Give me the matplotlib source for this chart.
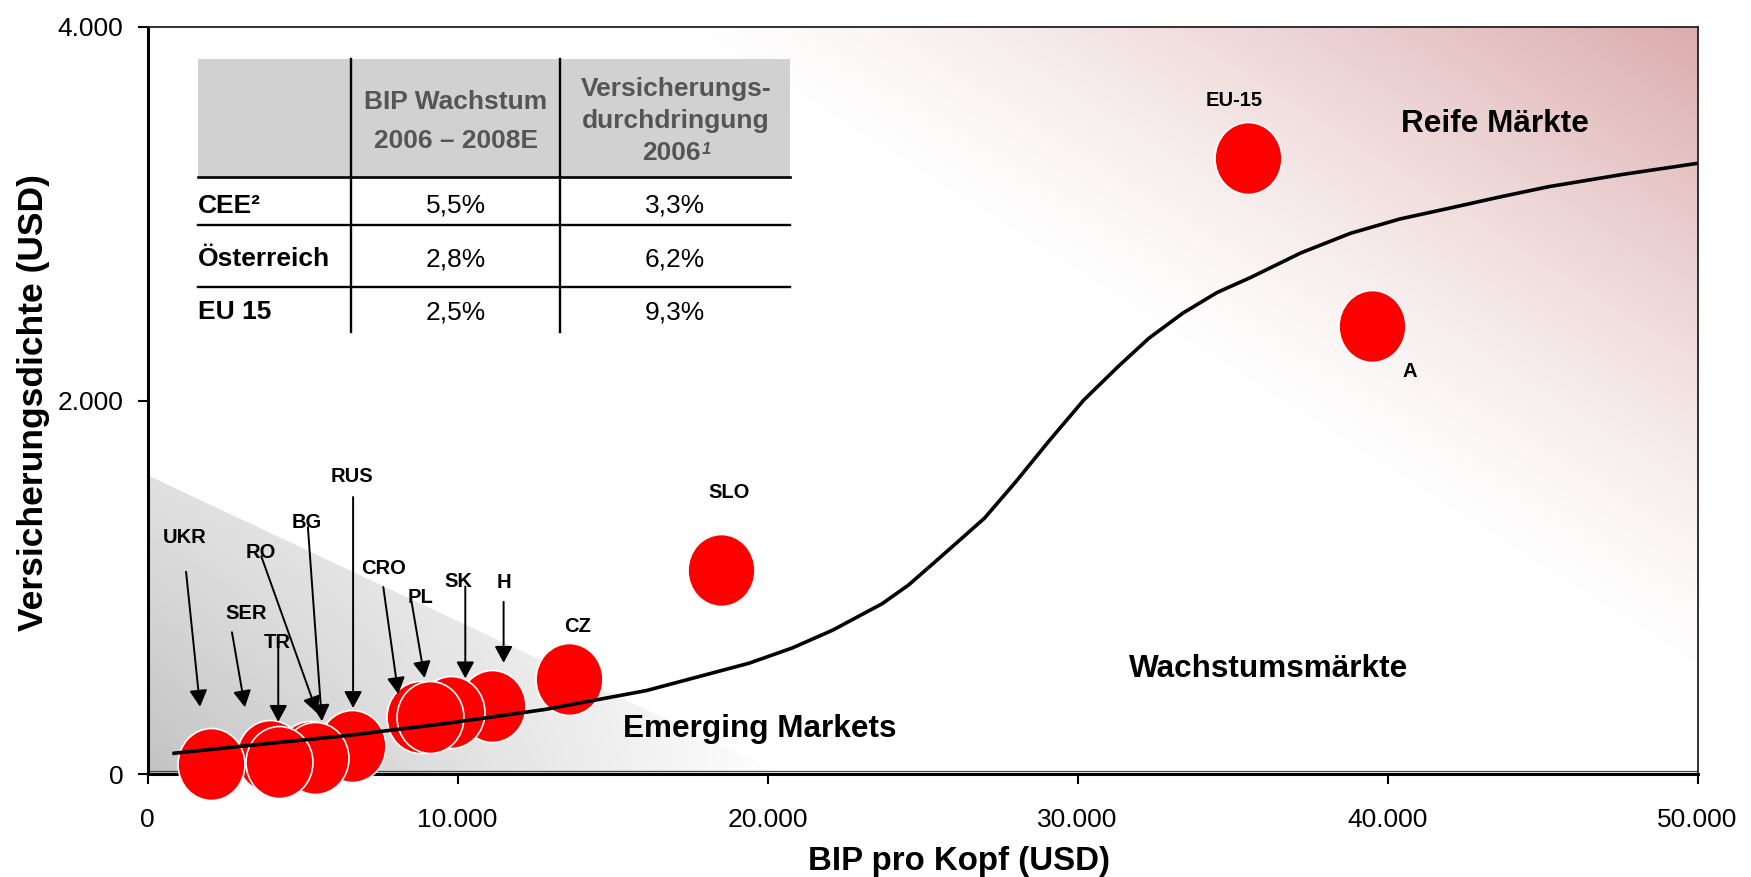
import numpy as np
import matplotlib
matplotlib.use("Agg")
import matplotlib.pyplot as plt
from matplotlib.path import Path
from matplotlib.patches import Polygon, Rectangle
from matplotlib.lines import Line2D
from matplotlib.transforms import offset_copy, ScaledTranslation
from matplotlib.ticker import FixedLocator, FuncFormatter

plt.rcParams['font.family'] = ['Liberation Sans', 'DejaVu Sans']

# ---- data -----------------------------------------------------------------
# markets in drawing order (later ones sit on top)
countries = ["RUS", "RO", "BG", "SER", "TR", "UKR", "H", "SK", "CRO", "PL",
             "CZ", "SLO", "EU-15", "A"]
gdp_per_capita = [6600, 5250, 5400, 3950, 4250, 2050, 11100, 9800, 8800, 9100,
                  13600, 18500, 35500, 39500]
insurance_density = [150, 90, 85, 95, 65, 55, 365, 330, 305, 305,
                     510, 1090, 3300, 2400]

# S-shaped development path
curve_gdp = [800, 3100, 6400, 9600, 12800, 16100, 19400, 20800, 22100, 23700,
             24550, 25350, 26150, 27000, 28000, 29100, 30200, 31300, 32300,
             33400, 34500, 35600, 37200, 38800, 40400, 42000, 43600, 45200,
             47600, 50000]
curve_density = [110, 150, 205, 270, 345, 447, 593, 675, 770, 912,
                 1012, 1128, 1245, 1370, 1563, 1787, 2002, 2180, 2333,
                 2468, 2578, 2660, 2790, 2895, 2972, 3030, 3089, 3145,
                 3211, 3270]

# inset table
table_headers = [["BIP Wachstum", "2006 – 2008E"],
                 ["Versicherungs-", "durchdringung", "2006"]]
table_rows = ["CEE²", "Österreich", "EU 15"]
gdp_growth = ["5,5%", "2,8%", "2,5%"]
penetration = ["3,3%", "6,2%", "9,3%"]

segment_names = ["Emerging Markets", "Wachstumsmärkte", "Reife Märkte"]

x_ticks = [0, 10000, 20000, 30000, 40000, 50000]
y_ticks = [0, 2000, 4000]

# ---- layout ---------------------------------------------------------------
W, H = 1751, 877
AX_L, AX_R, AX_T, AX_B = 147.5, 1697.5, 27, 774

# background zones (data space)
EMERGING_ZONE = [(0, 0), (0, 1600), (20500, 0)]
MATURE_ZONE = [(16500, 4000), (50000, 4000), (50000, 470)]
ROSE = np.array([220, 172, 173]) / 255.0

# segment caption anchors (data space, baseline centred)
SEGMENT_POS = [(19750, 200), (36150, 521), (43470, 3439)]

# label / arrow offsets in pixels relative to bubble centre: text, tail, tip
LABEL_LAYOUT = {
    "UKR": ((-26, 228), (-25, 192), (-11, 57)),
    "SER": ((-24, 145), (-38, 124), (-25, 49)),
    "TR": ((-2, 121), (-1, 114), (-1, 40)),
    "RO": ((-49, 207), (-49, 201), (7, 44)),
    "BG": ((-8, 238), (-7, 231), (7, 37)),
    "RUS": ((0, 271), (1, 249), (1, 38)),
    "CRO": ((-37, 151), (-37, 130), (-22, 23)),
    "PL": ((-9, 122), (-18, 115), (-5, 39)),
    "SK": ((7, 133), (14, 126), (14, 34)),
    "H": ((12, 125), (12, 104), (12, 43)),
    "CZ": ((8, 54), None, None),
    "SLO": ((8, 80), None, None),
    "EU-15": ((-14, 59), None, None),
    "A": ((38, -44), None, None),
}

fig = plt.figure(figsize=(W / 100, H / 100), dpi=100)
ax = fig.add_axes([AX_L / W, 1 - AX_B / H, (AX_R - AX_L) / W, (AX_B - AX_T) / H])
ax.set_xlim(0, 50000)
ax.set_ylim(0, 4000)


def shaded_zone(verts, colour_fn, z):
    xs = [v[0] for v in verts]
    ys = [v[1] for v in verts]
    x0, x1, y0, y1 = min(xs), max(xs), min(ys), max(ys)
    gx, gy = np.meshgrid(np.linspace(x0, x1, 600), np.linspace(y0, y1, 400))
    img = colour_fn(gx, gy)
    im = ax.imshow(img, extent=(x0, x1, y0, y1), origin='lower',
                   aspect='auto', interpolation='bilinear', zorder=z)
    clip = Polygon(verts, closed=True, transform=ax.transData,
                   facecolor='none', edgecolor='none')
    im.set_clip_path(clip)


def emerging_colour(gx, gy):
    (_, _), (_, ytop), (xright, _) = EMERGING_ZONE
    u = np.clip(gx / xright, 0, 1)
    v = np.clip(gy / ytop, 0, 1)
    shade = (1 - u) * (1 - 0.5 * v)
    g = 1 - (60 / 255.0) * shade
    return np.dstack([g, g, g])


def mature_colour(gx, gy):
    (ax0, ay0), (cx, cy), (bx, by) = MATURE_ZONE
    nx, ny = (ay0 - by), (bx - ax0)
    f = nx * (gx - ax0) + ny * (gy - ay0)
    fc = nx * (cx - ax0) + ny * (cy - ay0)
    d = np.clip(f / fc, 0, 1) ** 1.3
    rgb = 1 - d[..., None] * (1 - ROSE[None, None, :])
    return rgb


shaded_zone(EMERGING_ZONE, emerging_colour, 0.2)
shaded_zone(MATURE_ZONE, mature_colour, 0.3)
ax.set_xlim(0, 50000)
ax.set_ylim(0, 4000)

# ---- bubbles --------------------------------------------------------------
unit = Path.unit_circle()
ellipse = Path(unit.vertices * np.array([0.93, 1.0]), unit.codes)
ax.scatter(gdp_per_capita, insurance_density, s=(72 * 0.72) ** 2,
           marker=ellipse, c='#ff0000', edgecolors='white', linewidths=1.2,
           zorder=3, clip_on=False)

# development curve
ax.plot(curve_gdp, curve_density, color='black', lw=2.6, zorder=4,
        solid_capstyle='butt', solid_joinstyle='round')

# ---- labels and arrows ----------------------------------------------------
for name, gx, gy in zip(countries, gdp_per_capita, insurance_density):
    text_off, tail_off, tip_off = LABEL_LAYOUT[name]
    if tail_off is not None:
        tip_tr = offset_copy(ax.transData, fig=fig, x=tip_off[0], y=tip_off[1], units='dots')
        tail_tr = offset_copy(ax.transData, fig=fig, x=tail_off[0], y=tail_off[1], units='dots')
        ax.annotate("", xy=(gx, gy), xycoords=tip_tr, xytext=(gx, gy), textcoords=tail_tr,
                    arrowprops=dict(arrowstyle='-|>,head_length=0.5,head_width=0.27',
                                    mutation_scale=20, lw=1.4, color='black',
                                    shrinkA=0, shrinkB=0),
                    zorder=5, annotation_clip=False)
    ax.annotate(name, xy=(gx, gy), xytext=text_off, textcoords='offset pixels',
                ha='center', va='center_baseline', fontsize=14.5,
                fontweight='bold', zorder=6, annotation_clip=False)

for name, (sx, sy) in zip(segment_names, SEGMENT_POS):
    ax.text(sx, sy, name, ha='center', va='baseline', fontsize=22.7,
            fontweight='bold', zorder=6)

# ---- axes styling ---------------------------------------------------------
for side in ('left', 'bottom'):
    ax.spines[side].set_linewidth(2.2)
    ax.spines[side].set_color('black')
for side in ('top', 'right'):
    ax.spines[side].set_linewidth(1.3)
    ax.spines[side].set_color('#222222')
for sp in ax.spines.values():
    sp.set_zorder(2.5)

# thin plot-area border just above the x axis
ax.add_line(Line2D([0, 1], [0, 0],
                   transform=ax.transAxes + ScaledTranslation(0, 3.5 / 100, fig.dpi_scale_trans),
                   color='#444444', lw=0.9, zorder=2.4))

fmt = FuncFormatter(lambda v, _: f"{int(v):,}".replace(",", "."))
ax.xaxis.set_major_locator(FixedLocator(x_ticks))
ax.yaxis.set_major_locator(FixedLocator(y_ticks))
ax.xaxis.set_major_formatter(fmt)
ax.yaxis.set_major_formatter(fmt)
ax.tick_params(direction='out', length=7.2, width=1.5, labelsize=19, color='black')
ax.tick_params(axis='x', pad=17)
ax.tick_params(axis='y', pad=10)

fig.text(959 / W, 1 - 870 / H, "BIP pro Kopf (USD)", ha='center', va='baseline',
         fontsize=23.8, fontweight='bold')
fig.text(43 / W, 1 - 403 / H, "Versicherungsdichte (USD)", ha='center', va='baseline',
         rotation=90, rotation_mode='anchor', fontsize=25.5, fontweight='bold')

# ---- inset table (pixel layout converted to axes fraction) -----------------
def ax_pt(px, py):
    return ((px - AX_L) / (AX_R - AX_L), (AX_B - py) / (AX_B - AX_T))


TBL_L, TBL_R, TBL_T, HDR_B = 198.3, 790, 59.3, 176.7
COL_SPLIT = [351, 560]
ROW_LINES = [225, 286.7]
TBL_BOTTOM = 331.7
COL_CENTRES = [455.7, 676]
HEADER_BASELINES = [[109.3, 147.7], [96, 128, 159.5]]
ROW_BASELINES = [212.7, 266, 319.3]
HEADER_GREY = '#555555'

x0, y0 = ax_pt(TBL_L, HDR_B)
x1, y1 = ax_pt(TBL_R, TBL_T)
ax.add_patch(Rectangle((x0, y0), x1 - x0, y1 - y0, transform=ax.transAxes,
                       facecolor='#d1d1d1', edgecolor='none', zorder=7, clip_on=False))


def hline(py, lw):
    a, b = ax_pt(TBL_L, py), ax_pt(TBL_R, py)
    ax.add_line(Line2D([a[0], b[0]], [a[1], b[1]], transform=ax.transAxes,
                       color='black', lw=lw, zorder=8, clip_on=False))


hline(HDR_B, 1.9)
for py in ROW_LINES:
    hline(py, 1.7)
for px in COL_SPLIT:
    a, b = ax_pt(px, TBL_T), ax_pt(px, TBL_BOTTOM)
    ax.add_line(Line2D([a[0], b[0]], [a[1], b[1]], transform=ax.transAxes,
                       color='black', lw=1.7, zorder=8, clip_on=False))

for ci, (lines, baselines) in enumerate(zip(table_headers, HEADER_BASELINES)):
    for li, (txt, by) in enumerate(zip(lines, baselines)):
        cx = COL_CENTRES[ci]
        last_with_note = (ci == 1 and li == len(lines) - 1)
        if last_with_note:
            cx -= 5
        t = ax.text(*ax_pt(cx, by), txt, transform=ax.transAxes, ha='center',
                    va='baseline', fontsize=19, fontweight='bold', color=HEADER_GREY,
                    zorder=9)
        if last_with_note:
            ax.annotate("1", xy=(1, 1), xycoords=t, xytext=(1, -1),
                        textcoords='offset points', ha='left', va='top',
                        fontsize=12, fontstyle='italic', fontweight='bold',
                        color=HEADER_GREY, zorder=9)

for label, g, p, by in zip(table_rows, gdp_growth, penetration, ROW_BASELINES):
    ax.text(*ax_pt(TBL_L, by), label, transform=ax.transAxes, ha='left',
            va='baseline', fontsize=19, fontweight='bold', zorder=9)
    ax.text(*ax_pt(COL_CENTRES[0], by), g, transform=ax.transAxes, ha='center',
            va='baseline', fontsize=19, zorder=9)
    ax.text(*ax_pt(COL_CENTRES[1] - 1, by), p, transform=ax.transAxes, ha='center',
            va='baseline', fontsize=19, zorder=9)

fig.savefig("out.png", dpi=100, facecolor='white')
